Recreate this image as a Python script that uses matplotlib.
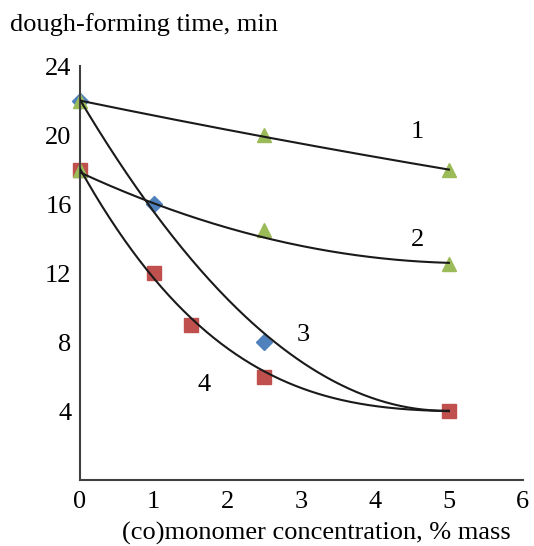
import numpy as np
import matplotlib
matplotlib.use('Agg')
import matplotlib.pyplot as plt

plt.rcParams['font.family'] = ['Liberation Serif', 'DejaVu Serif']

# measured points
x1 = [0, 2.5, 5]
y1 = [22, 20, 18]
x2 = [0, 2.5, 5]
y2 = [18, 14.5, 12.5]
x3 = [0, 1, 2.5]
y3 = [22, 16, 8]
x4 = [0, 1, 1.5, 2.5, 5]
y4 = [18, 12, 9, 6, 4]

# trend curves, points
tx1 = [0, 2.5, 5]
ty1 = [22, 19.9, 18]
tx2 = [0, 1, 2.5, 3.6, 5]
ty2 = [18, 15.75, 14.1, 13.3, 12.5]
tx3 = [0, 1, 1.6, 2.5, 3.3, 4.2, 5]
ty3 = [22, 15.7, 12.3, 8.4, 6.0, 4.6, 3.95]
tx4 = [0, 1.2, 1.6, 2.5, 3.3, 4.2, 5]
ty4 = [18, 11.0, 8.8, 6.2, 4.95, 4.26, 3.95]

labels = ['1', '2', '3', '4']
label_pos = [(4.57, 20.2), (4.57, 13.9), (3.03, 8.4), (1.68, 5.5)]

xticks = [0, 1, 2, 3, 4, 5, 6]
yticks = [4, 8, 12, 16, 20, 24]

green = '#9BBB59'
red = '#C0504D'
blue = '#4F81BD'

fig = plt.figure(figsize=(5.34, 5.46), dpi=100)
ax = fig.add_axes([0.1498, 0.1209, 0.829, 0.758])

ax.plot(x3, y3, 'D', color=blue, ms=8, zorder=1, clip_on=False)
ax.plot(x4, y4, 's', color=red, ms=9.5, zorder=1, clip_on=False)
ax.plot(x1, y1, '^', color=green, ms=10, zorder=2, clip_on=False)
ax.plot(x2, y2, '^', color=green, ms=10, zorder=2, clip_on=False)

for tx, ty, deg in [(tx1, ty1, 2), (tx2, ty2, 2), (tx3, ty3, 3), (tx4, ty4, 3)]:
    c = np.polyfit(tx, ty, deg)
    xx = np.linspace(0, 5, 200)
    ax.plot(xx, np.polyval(c, xx), color='#1a1a1a', lw=1.5, zorder=3)

for lab, (lx, ly) in zip(labels, label_pos):
    ax.text(lx, ly, lab, fontsize=19, ha='center', va='center')

ax.set_xlim(0, 6)
ax.set_ylim(0, 24)
ax.set_xticks(xticks)
ax.set_yticks(yticks)
ax.tick_params(length=0, labelsize=19, pad=6)
ax.tick_params(axis='x', pad=8)
ax.spines['top'].set_visible(False)
ax.spines['right'].set_visible(False)
for s in ['left', 'bottom']:
    ax.spines[s].set_color('#404040')
    ax.spines[s].set_linewidth(1.5)

fig.text(0.592, 0.002, '(co)monomer concentration, % mass', fontsize=19,
         ha='center', va='bottom')
fig.text(0.018, 0.955, 'dough-forming time, min', fontsize=19, ha='left', va='center')

fig.savefig('out.png', dpi=100)
